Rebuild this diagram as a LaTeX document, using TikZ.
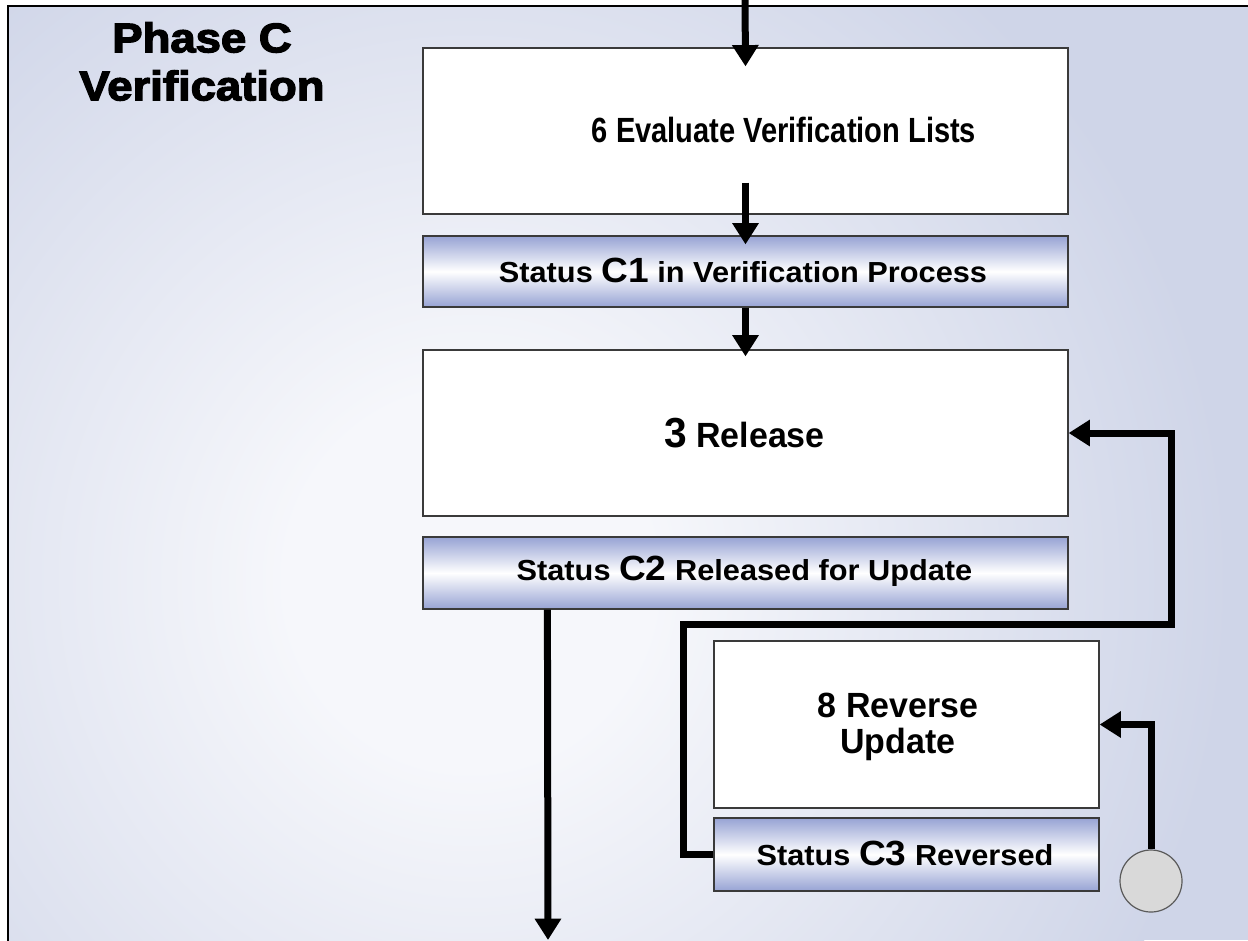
\documentclass[tikz,border=0pt]{standalone}
\usepackage{fontspec}
\usepackage{graphicx}
\setmainfont{Liberation Sans}
\newfontfamily\titlefont{Liberation Sans}[UprightFont={* Bold}, FakeBold=3]
\usetikzlibrary{arrows.meta,calc,shapes.geometric}
\definecolor{bgc}{HTML}{CFD5E8}
\definecolor{glowc}{HTML}{F6F7FB}
\definecolor{barblue}{HTML}{97A3D4}
\definecolor{boxline}{HTML}{3A3A3A}
\definecolor{circfill}{HTML}{D9D9D9}
\definecolor{circline}{HTML}{5A5A5A}
\pgfdeclareradialshading{bgglow}{\pgfpoint{0bp}{0bp}}{color(0bp)=(glowc); color(6bp)=(glowc); color(25bp)=(bgc); color(50bp)=(bgc)}
\tikzset{
  mainbox/.style={draw=boxline, line width=0.9pt, fill=white, inner sep=0pt},
  statbar/.style={draw=boxline, line width=0.9pt, inner sep=0pt,
    top color=barblue, bottom color=barblue, middle color=white},
  maintext/.style={inner sep=0pt, font=\bfseries\fontsize{26.25}{27.5}\selectfont, align=center},
  stattext/.style={inner sep=0pt, font=\bfseries\fontsize{21.75}{23}\selectfont},
  titletext/.style={inner sep=0pt, font=\titlefont\fontsize{31}{36}\selectfont, align=center},
  arr/.style={line width=5.25pt, draw=black, line join=miter, -{Triangle[width=19pt,length=16pt]}},
}
\newcommand{\bigC}[1]{{\fontsize{26.25}{27}\selectfont #1}}
\begin{document}
\begin{tikzpicture}[x=0.75pt,y=-0.75pt]
\useasboundingbox (0,0) rectangle (1248,940);
% background
\begin{scope}
  \clip (8,6) rectangle (1248,940);
  \fill[bgc] (8,6) rectangle (1248,940);
  \path[shading=bgglow] (470,580) ellipse [x radius=760, y radius=780];
\end{scope}
\draw[black, line width=1.3pt] (8,945) -- (8,6) -- (1250,6);

% title
\node[titletext] (title) at (202,61.5) {\scalebox{1.1}[1]{Phase C}\\\scalebox{1.1}[1]{Verification}};

% boxes
\node[mainbox, minimum width=645*0.75pt, minimum height=166*0.75pt] (b6) at (745.5,131) {};
\node[statbar, minimum width=645*0.75pt, minimum height=71*0.75pt] (c1) at (745.5,271.5) {};
\node[mainbox, minimum width=645*0.75pt, minimum height=166*0.75pt] (b3) at (745.5,433) {};
\node[statbar, minimum width=645*0.75pt, minimum height=72*0.75pt] (c2) at (745.5,573) {};
\node[mainbox, minimum width=385*0.75pt, minimum height=167*0.75pt] (b8) at (906.5,724.5) {};
\node[statbar, minimum width=385*0.75pt, minimum height=73*0.75pt] (c3) at (906.5,854.5) {};
\node[ellipse, draw=circline, line width=0.9pt, fill=circfill, minimum width=62*0.75pt, minimum height=62*0.75pt, inner sep=0pt] (circ) at (1151,881) {};

% texts
\node[maintext] (t6) at (784,130) {\scalebox{0.83}[1]{6 Evaluate Verification Lists}};
\node[maintext] (t3) at (744.5,433) {\scalebox{0.97}[1]{{\fontsize{31.5}{32}\selectfont 3} Release}};
\node[maintext] (t8) at (898,727) {\scalebox{0.97}[1]{8 Reverse}\\\scalebox{0.97}[1]{Update}};
\node[stattext] (s1) at (743,270) {\scalebox{1.06}[1]{Status \bigC{C1} in Verification Process}};
\node[stattext] (s2) at (744.5,571.5) {\scalebox{1.06}[1]{Status \bigC{C2} Released for Update}};
\node[stattext] (s3) at (905,853) {\scalebox{1.06}[1]{Status \bigC{C3} Reversed}};

% connectors
\coordinate (topin) at (745,0);
\coordinate (bottomout) at (548,940);
\coordinate (lp1) at (683,624);
\coordinate (lp2) at (1171,433);
\draw[arr] (topin) -- ($(b6.north)+(0,19)$);
\draw[arr] ($(b6.south)+(0,-32)$) -- ($(c1.north)+(0,9)$);
\draw[arr] (c1.south) -- ($(b3.north)+(0,7)$);
\draw[arr] ($(c2.south west)+(125,0)$) -- (bottomout);
\draw[arr] (c3.west) -| (lp1) -| (lp2) -- (b3.east);
\draw[arr] (circ.north) |- (b8.east);
\end{tikzpicture}
\end{document}
